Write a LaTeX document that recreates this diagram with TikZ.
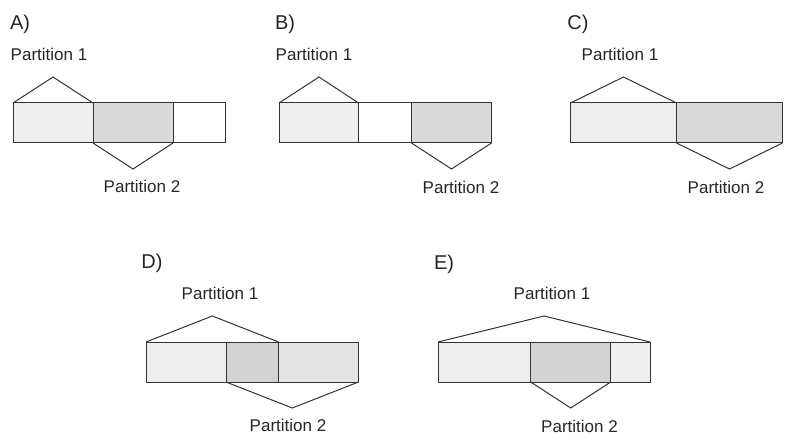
\documentclass[tikz,border=0pt]{standalone}
\usepackage{fontspec}
\setmainfont{Liberation Sans}
\definecolor{lightfill}{HTML}{EEEEEE}
\definecolor{darkfill}{HTML}{DADADA}
\definecolor{darkerfill}{HTML}{D3D3D3}
\definecolor{midfill}{HTML}{E3E3E3}
\definecolor{edge}{HTML}{333333}
\tikzset{
  seg/.style={draw=edge, line width=1pt},
  roof/.style={draw=edge, line width=1pt, line join=miter},
  lbl/.style={inner sep=0pt, anchor=base, font=\fontsize{17}{20}\selectfont, text=black!85},
  panel/.style={inner sep=0pt, anchor=base, font=\fontsize{20}{24}\selectfont, text=black!85},
}
\begin{document}
\begin{tikzpicture}[x=1pt,y=-1pt]
\useasboundingbox (0,0) rectangle (791,446);
% ---------------- A
\node[panel] (la) at (20,30) {A)};
\filldraw[seg, fill=lightfill] (13,103) rectangle (93,143);
\filldraw[seg, fill=darkfill] (93,103) rectangle (173,143);
\filldraw[seg, fill=white] (173,103) rectangle (225,143);
\draw[roof] (13,103) -- (53,77) -- (93,103);
\draw[roof] (93,143) -- (133,169) -- (173,143);
\node[lbl] (a1) at (49,61) {Partition 1};
\node[lbl] (a2) at (142,193) {Partition 2};
% ---------------- B
\node[panel] (lb) at (285,30) {B)};
\filldraw[seg, fill=lightfill] (279,103) rectangle (358.5,143);
\filldraw[seg, fill=white] (358.5,103) rectangle (411.5,143);
\filldraw[seg, fill=darkfill] (411.5,103) rectangle (491.5,143);
\draw[roof] (279,103) -- (319,77) -- (358.5,103);
\draw[roof] (411.5,143) -- (451.5,169) -- (491.5,143);
\node[lbl] (b1) at (314,61) {Partition 1};
\node[lbl] (b2) at (461,194) {Partition 2};
% ---------------- C
\node[panel] (lc) at (578,30) {C)};
\filldraw[seg, fill=lightfill] (570.5,103) rectangle (676.5,143);
\filldraw[seg, fill=darkfill] (676.5,103) rectangle (782.5,143);
\draw[roof] (570.5,103) -- (623.5,77) -- (676.5,103);
\draw[roof] (676.5,143) -- (729.5,169) -- (782.5,143);
\node[lbl] (c1) at (620,61) {Partition 1};
\node[lbl] (c2) at (726,194) {Partition 2};
% ---------------- D
\node[panel] (ld) at (152,268) {D)};
\filldraw[seg, fill=lightfill] (146,342) rectangle (226,382);
\filldraw[seg, fill=darkerfill] (226,342) rectangle (278.5,382);
\filldraw[seg, fill=midfill] (278.5,342) rectangle (358.5,382);
\draw[roof] (146,342) -- (212.3,316) -- (278.5,342);
\draw[roof] (226,382) -- (292.3,408) -- (358.5,382);
\node[lbl] (d1) at (220,299) {Partition 1};
\node[lbl] (d2) at (288,431) {Partition 2};
% ---------------- E
\node[panel] (le) at (444,269) {E)};
\filldraw[seg, fill=lightfill] (438,342) rectangle (530.7,382);
\filldraw[seg, fill=darkerfill] (530.7,342) rectangle (610.7,382);
\filldraw[seg, fill=lightfill] (610.7,342) rectangle (650,382);
\draw[roof] (438,342) -- (544,316) -- (650,342);
\draw[roof] (530.7,382) -- (570.7,408) -- (610.7,382);
\node[lbl] (e1) at (552,299) {Partition 1};
\node[lbl] (e2) at (579.5,432) {Partition 2};
\end{tikzpicture}
\end{document}
